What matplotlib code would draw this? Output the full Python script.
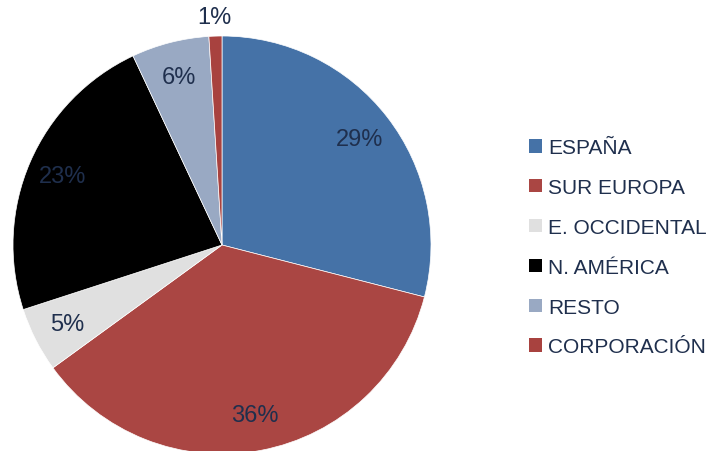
import numpy as np
import matplotlib.pyplot as plt
from matplotlib.patches import Patch

plt.rcParams['font.family'] = ['Liberation Sans', 'DejaVu Sans']

# Sales split by region
regions = ['ESPAÑA', 'SUR EUROPA', 'E. OCCIDENTAL', 'N. AMÉRICA', 'RESTO', 'CORPORACIÓN']
shares = [29, 36, 5, 23, 6, 1]
colors = ['#4572A7', '#AA4643', '#E0E0E0', '#000000', '#99A9C3', '#A8423F']
text_color = '#1F2F4D'

fig = plt.figure(figsize=(7.10, 4.52), dpi=100)

# Square axes holding the pie (pixel box 418 x 418, centred at 222, 246)
W, H = 710, 452
cx, cy, r = 222, 246, 209
ax = fig.add_axes([(cx - r) / W, (H - cy - r) / H, 2 * r / W, 2 * r / H])

wedges, texts = ax.pie(shares, colors=colors, startangle=90, counterclock=False,
                       radius=1.0, wedgeprops=dict(linewidth=0.5, edgecolor='white'))
ax.set_xlim(-1, 1)
ax.set_ylim(-1, 1)
ax.set_aspect('auto')
ax.axis('off')

# Percentage labels: inside for the big slices, just outside for the tiny one
total = float(sum(shares))
for val, w in zip(shares, wedges):
    mid = np.deg2rad((w.theta1 + w.theta2) / 2)
    dist = 1.09 if val / total < 0.02 else 0.83
    ax.text(dist * np.cos(mid), dist * np.sin(mid), f'{val}%',
            ha='center', va='center', fontsize=17, color=text_color)

# Legend on the right
handles = [Patch(facecolor=c, edgecolor='none') for c in colors]
fig.legend(handles, regions, loc='upper left', bbox_to_anchor=(0.731, 0.715),
           frameon=False, fontsize=15, labelcolor=text_color,
           handlelength=0.6, handleheight=0.6, handletextpad=0.3,
           labelspacing=1.0, borderpad=0)

fig.savefig('out.png', dpi=100)
